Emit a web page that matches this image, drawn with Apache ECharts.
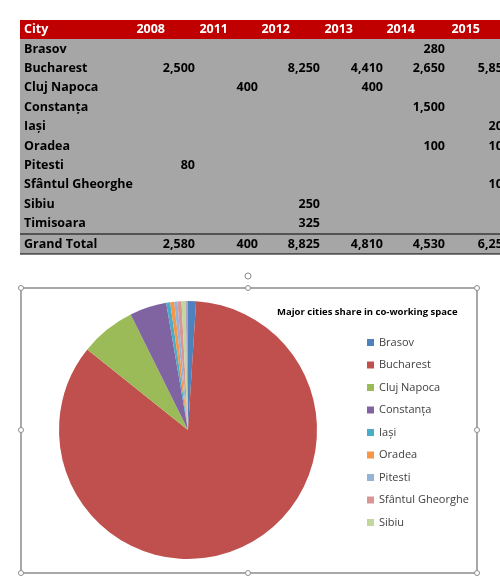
<!DOCTYPE html>
<html><head><meta charset="utf-8">
<script src="https://cdn.jsdelivr.net/npm/echarts@6/dist/echarts.min.js"></script>
<style>html,body{margin:0;padding:0;background:#fff}#c{width:500px;height:581px}</style>
</head><body><div id="c"></div>
<script>
const years = ['2008','2011','2012','2013','2014','2015'];
const cities = ['Brasov','Bucharest','Cluj Napoca','Constanța','Iași','Oradea','Pitesti','Sfântul Gheorghe','Sibiu','Timisoara'];
const v2008 = [null,'2,500',null,null,null,null,'80',null,null,null];
const v2011 = [null,null,'400',null,null,null,null,null,null,null];
const v2012 = [null,'8,250',null,null,null,null,null,null,'250','325'];
const v2013 = [null,'4,410','400',null,null,null,null,null,null,null];
const v2014 = ['280','2,650',null,'1,500',null,'100',null,null,null,null];
const v2015 = [null,'5,850',null,null,'200','100',null,'100',null,null];
const totals = ['2,580','400','8,825','4,810','4,530','6,250'];
const pieNames = cities;
const pieShares = [1.0,84.4,6.9,4.6,0.5,0.5,0.4,0.5,0.5,0.3];
const legendNames = cities.slice(0,9);
const colors = ['#4f81bd','#c0504d','#9bbb59','#8064a2','#4bacc6','#f79646','#95b3d7','#d99694','#c3d69b','#b3a2c7'];

const cols = [v2008,v2011,v2012,v2013,v2014,v2015];
const colRight = [195,258,320,383,445,510];
const font = 'bold 12.5px "Open Sans", sans-serif';
const g = [];
g.push({type:'rect',shape:{x:20,y:20,width:480,height:234},style:{fill:'#a6a6a6'}});
g.push({type:'rect',shape:{x:20,y:20,width:480,height:19},style:{fill:'#c00000'}});
g.push({type:'text',style:{x:24,y:29,text:'City',fill:'#fff',font:font,verticalAlign:'middle'}});
years.forEach((y,i)=>g.push({type:'text',style:{x:colRight[i]-30,y:29,text:y,fill:'#fff',font:font,align:'right',verticalAlign:'middle'}}));
cities.forEach((c,r)=>{
  const yy = 49 + r*19.4;
  g.push({type:'text',style:{x:24,y:yy,text:c,fill:'#000',font:font,verticalAlign:'middle'}});
  cols.forEach((col,i)=>{ if(col[r]) g.push({type:'text',style:{x:colRight[i],y:yy,text:col[r],fill:'#000',font:font,align:'right',verticalAlign:'middle'}}); });
});
g.push({type:'line',shape:{x1:20,y1:234,x2:500,y2:234},style:{stroke:'#000',lineWidth:1}});
g.push({type:'line',shape:{x1:20,y1:254,x2:500,y2:254},style:{stroke:'#000',lineWidth:1}});
g.push({type:'text',style:{x:24,y:244,text:'Grand Total',fill:'#000',font:font,verticalAlign:'middle'}});
totals.forEach((t,i)=>g.push({type:'text',style:{x:colRight[i],y:244,text:t,fill:'#000',font:font,align:'right',verticalAlign:'middle'}}));
// chart frame
g.push({type:'rect',shape:{x:21,y:288,width:456,height:285},style:{fill:'none',stroke:'#8c8c8c',lineWidth:1.5}});
[[21,288],[248,288],[477,288],[21,430],[477,430],[21,573],[248,573],[477,573]].forEach(p=>
  g.push({type:'circle',shape:{cx:p[0],cy:p[1],r:2.5},style:{fill:'#fff',stroke:'#8c8c8c'}}));
g.push({type:'circle',shape:{cx:248,cy:276,r:3},style:{fill:'#fff',stroke:'#8c8c8c'}});

const chart = echarts.init(document.getElementById('c'));
chart.setOption({
  animation:false,
  color:colors,
  title:{text:'Major cities share in co-working space',left:272,top:302,textStyle:{fontSize:9.5,fontWeight:'bold',color:'#000',fontFamily:'"Open Sans", sans-serif'}},
  legend:{data:legendNames,orient:'vertical',left:362,top:332,itemWidth:7,itemHeight:7,itemGap:11.5,icon:'rect',
    textStyle:{fontSize:11,color:'#404040',fontFamily:'"Open Sans", sans-serif'}},
  graphic:g,
  series:[{type:'pie',center:[188,430],radius:129,startAngle:90,clockwise:true,label:{show:false},labelLine:{show:false},
    itemStyle:{borderColor:'#fff',borderWidth:0},
    data:pieNames.map((n,i)=>({name:n,value:pieShares[i]}))}]
});
</script></body></html>
